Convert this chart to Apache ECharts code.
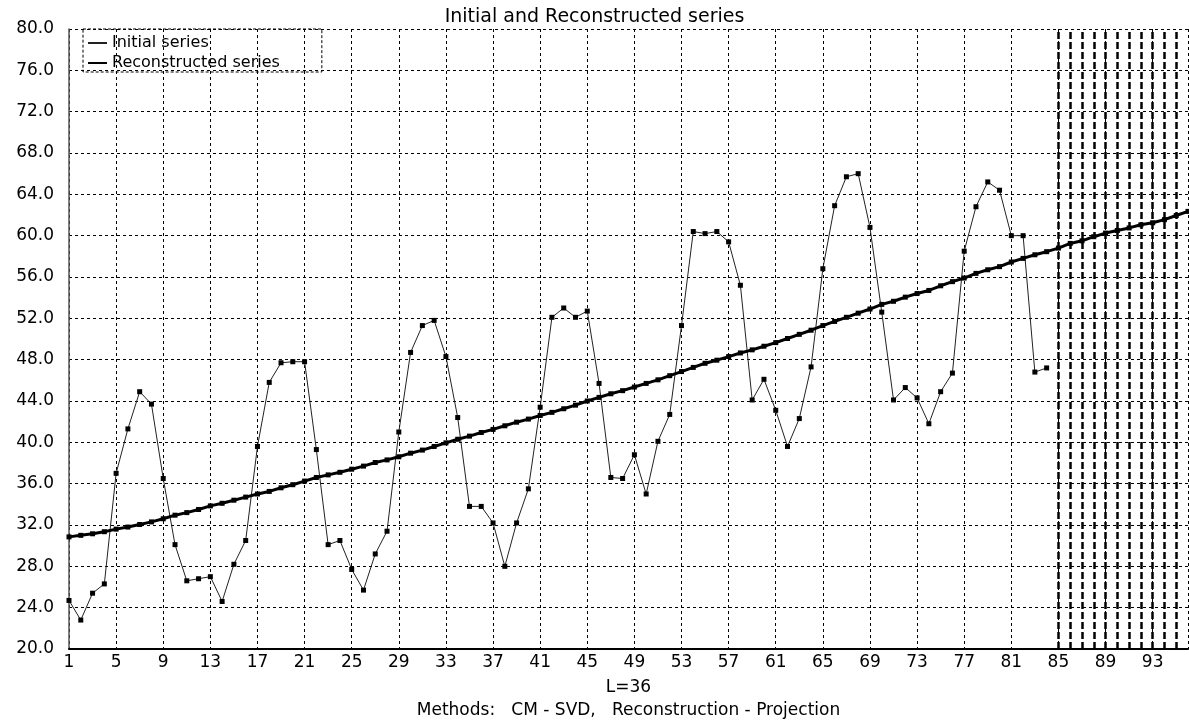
<!DOCTYPE html>
<html>
<head>
<meta charset="utf-8">
<script src="https://cdn.jsdelivr.net/npm/echarts@6/dist/echarts.min.js"></script>
<style>
  html, body { margin: 0; padding: 0; background: #fff; }
  #chart { width: 1189px; height: 720px; }
</style>
</head>
<body>
<div id="chart"></div>
<script>
// Time steps of the observed series (1..84) and of the reconstruction with its continuation (1..96)
const initialSteps = [1,2,3,4,5,6,7,8,9,10,11,12,13,14,15,16,17,18,19,20,21,22,23,24,25,26,27,28,29,30,
  31,32,33,34,35,36,37,38,39,40,41,42,43,44,45,46,47,48,49,50,51,52,53,54,55,56,57,58,59,60,
  61,62,63,64,65,66,67,68,69,70,71,72,73,74,75,76,77,78,79,80,81,82,83,84];
const reconSteps = [1,2,3,4,5,6,7,8,9,10,11,12,13,14,15,16,17,18,19,20,21,22,23,24,25,26,27,28,29,30,
  31,32,33,34,35,36,37,38,39,40,41,42,43,44,45,46,47,48,49,50,51,52,53,54,55,56,57,58,59,60,
  61,62,63,64,65,66,67,68,69,70,71,72,73,74,75,76,77,78,79,80,81,82,83,84,85,86,87,88,89,90,
  91,92,93,94,95,96];

// Observed values
const initialSeries = [24.7,22.8,25.4,26.3,37.0,41.3,44.9,43.7,36.5,30.1,26.6,26.8,27.0,24.6,28.2,30.5,39.6,45.8,47.7,47.8,
  47.8,39.3,30.1,30.5,27.7,25.7,29.2,31.4,41.0,48.7,51.3,51.8,48.3,42.4,33.8,33.8,32.2,28.0,32.2,35.5,
  43.4,52.1,53.0,52.1,52.7,45.7,36.6,36.5,38.8,35.0,40.1,42.7,51.3,60.4,60.2,60.4,59.4,55.2,44.1,46.1,
  43.1,39.6,42.3,47.3,56.8,62.9,65.7,66.0,60.8,52.6,44.1,45.3,44.3,41.8,44.9,46.7,58.5,62.8,65.2,64.4,
  60.0,60.0,46.8,47.2];

// Reconstructed trend (SSA, L=36), continued past the observed range
const reconstructedSeries = [30.85,31.0,31.15,31.35,31.6,31.8,32.05,32.3,32.6,32.95,33.2,33.5,33.85,34.1,34.4,34.7,35.0,35.25,35.6,35.9,
  36.25,36.6,36.85,37.1,37.4,37.7,38.05,38.3,38.6,38.95,39.25,39.6,39.95,40.3,40.6,40.95,41.25,41.6,41.95,42.25,
  42.6,42.9,43.25,43.6,44.0,44.35,44.7,45.0,45.35,45.7,46.05,46.45,46.85,47.25,47.65,47.95,48.3,48.65,48.95,49.3,
  49.65,50.05,50.45,50.85,51.3,51.7,52.1,52.5,52.9,53.35,53.65,54.05,54.4,54.7,55.15,55.55,55.9,56.35,56.7,57.0,
  57.45,57.8,58.15,58.45,58.8,59.25,59.5,59.9,60.25,60.5,60.75,61.05,61.25,61.55,61.95,62.35];

// Steps marked as the forecast zone
const forecastSteps = [85,86,87,88,89,90,91,92,93,94,95];

const FONT = '"DejaVu Sans", Arial, sans-serif';

const chart = echarts.init(document.getElementById('chart'), null, { renderer: 'canvas' });

const pairs = (xs, ys) => ys.map((v, i) => [xs[i], v]);

chart.setOption({
  animation: false,
  backgroundColor: '#fff',
  textStyle: { fontFamily: FONT, color: '#000' },
  title: {
    text: 'Initial and Reconstructed series',
    left: 'center',
    top: 3,
    textStyle: { fontFamily: FONT, fontSize: 19, fontWeight: 'normal', color: '#000' }
  },
  legend: {
    orient: 'vertical',
    left: 83,
    top: 29,
    itemWidth: 19,
    itemHeight: 14,
    itemGap: 4,
    padding: [6, 42, 1, 4],
    borderColor: '#000',
    borderWidth: 1,
    borderType: [3, 2],
    itemStyle: { opacity: 0 },
    textStyle: { fontFamily: FONT, fontSize: 16, color: '#000' },
    data: ['Initial series', 'Reconstructed series'],
    selectedMode: false
  },
  grid: { left: 69, right: 1, top: 29, bottom: 71, containLabel: false, outerBoundsMode: 'none' },
  xAxis: {
    type: 'value',
    min: 1,
    max: 96,
    interval: 4,
    name: 'L=36\nMethods:   CM - SVD,   Reconstruction - Projection',
    nameLocation: 'middle',
    nameGap: 25,
    nameTextStyle: { fontFamily: FONT, fontSize: 17, color: '#000', lineHeight: 23 },
    axisLine: { show: true, lineStyle: { color: '#000', width: 2 } },
    axisTick: { show: false },
    axisLabel: { fontFamily: FONT, fontSize: 17, color: '#000', margin: 5, showMaxLabel: false, showMinLabel: true },
    splitLine: { show: true, lineStyle: { color: '#000', width: 1, type: [3, 3] } }
  },
  yAxis: {
    type: 'value',
    min: 20,
    max: 80,
    interval: 4,
    axisLine: { show: true, lineStyle: { color: '#555', width: 1.5 } },
    axisTick: { show: false },
    axisLabel: {
      fontFamily: FONT, fontSize: 17, color: '#000', margin: 15,
      formatter: v => v.toFixed(1)
    },
    splitLine: { show: true, lineStyle: { color: '#000', width: 1, type: [3, 3] } }
  },
  series: [
    {
      name: 'Initial series',
      type: 'line',
      data: pairs(initialSteps, initialSeries),
      symbol: 'rect',
      symbolSize: 5,
      showAllSymbol: true,
      lineStyle: { color: '#222', width: 1 },
      itemStyle: { color: '#000' },
      z: 3
    },
    {
      name: 'Reconstructed series',
      type: 'line',
      data: pairs(reconSteps, reconstructedSeries),
      symbol: 'rect',
      symbolSize: 5,
      showAllSymbol: true,
      lineStyle: { color: '#000', width: 3 },
      itemStyle: { color: '#000' },
      z: 4,
      markLine: {
        silent: true,
        symbol: 'none',
        label: { show: false },
        lineStyle: { color: '#000', width: 2.5, type: [7, 3] },
        data: forecastSteps.map(s => ({ xAxis: s }))
      }
    }
  ]
});
</script>
</body>
</html>
